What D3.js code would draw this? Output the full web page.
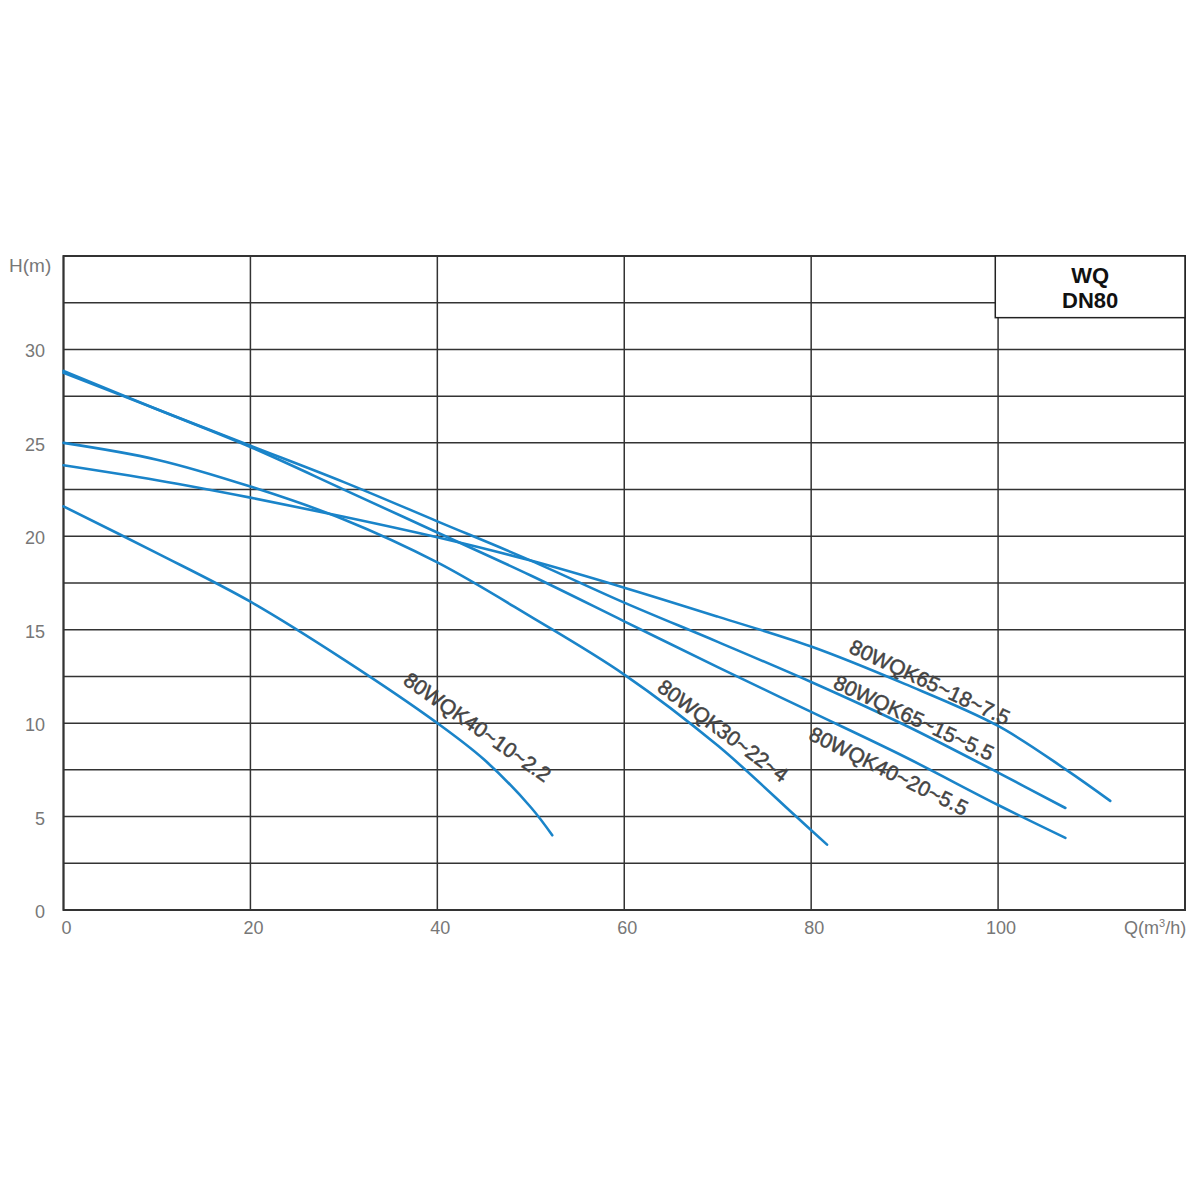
<!DOCTYPE html>
<html>
<head>
<meta charset="utf-8">
<script src="https://cdn.jsdelivr.net/npm/d3@7"></script>
<style>
  html, body { margin: 0; padding: 0; background: #fff; }
  svg { display: block; }
</style>
</head>
<body>
<svg id="chart" width="1200" height="1200"></svg>
<script>
// ---- Data ----
const seriesNames = ["80WQK40~10~2.2", "80WQK30~22~4", "80WQK65~18~7.5", "80WQK65~15~5.5", "80WQK40~20~5.5"];

const qA = [0, 10, 20, 30, 40, 45, 50, 52.3];
const hA = [21.6, 19.1, 16.5, 13.4, 10.0, 8.05, 5.5, 4.0];

const qB = [0, 10, 20, 30, 40, 50, 60, 70, 78.4, 81.7];
const hB = [25.0, 24.1, 22.66, 20.9, 18.6, 15.7, 12.6, 8.8, 5.0, 3.5];

const qC = [0, 10, 20, 30, 40, 50, 60, 70, 80, 90, 100, 107.3, 112];
const hC = [23.8, 23.0, 22.07, 21.05, 19.95, 18.7, 17.25, 15.7, 14.1, 12.1, 9.85, 7.5, 5.84];

const qD = [0, 10, 20, 30, 40, 50, 60, 70, 80, 90, 100, 107.2];
const hD = [28.75, 26.8, 24.85, 22.9, 20.8, 18.7, 16.45, 14.35, 12.2, 9.9, 7.35, 5.46];

const qE = [0, 10, 20, 30, 40, 50, 60, 70, 80, 90, 100, 107.2];
const hE = [28.85, 26.8, 24.78, 22.5, 20.2, 17.9, 15.45, 13.0, 10.6, 8.2, 5.62, 3.86];

// label anchor points (Q, H) and rotation angles
const labelQ = [44.3, 70.6, 92.7, 91.0, 88.3];
const labelH = [9.8, 9.6, 12.2, 10.3, 7.45];
const labelAngle = [35, 36.5, 25, 25, 26.3];

const xTicks = [0, 20, 40, 60, 80, 100];
const yTicks = [0, 5, 10, 15, 20, 25, 30];
const titleLines = ["WQ", "DN80"];

// ---- Layout ----
const svg = d3.select("#chart");
const pLeft = 63.5, pRight = 1185, pTop = 256, pBottom = 910;
const x = d3.scaleLinear().domain([0, 120]).range([pLeft, pRight]);
const y = d3.scaleLinear().domain([0, 35]).range([pBottom, pTop]);

const gridColor = "#333";
// horizontal grid
const hGrid = d3.range(0, 35.01, 2.5);
svg.append("g").selectAll("line").data(hGrid).join("line")
  .attr("x1", pLeft).attr("x2", pRight)
  .attr("y1", d => y(d)).attr("y2", d => y(d))
  .attr("stroke", gridColor).attr("stroke-width", 1.5);
// vertical grid
const vGrid = d3.range(0, 120.01, 20);
svg.append("g").selectAll("line").data(vGrid).join("line")
  .attr("y1", pTop).attr("y2", pBottom)
  .attr("x1", d => x(d)).attr("x2", d => x(d))
  .attr("stroke", gridColor).attr("stroke-width", 1.5);
// frame
svg.append("rect").attr("x", pLeft).attr("y", pTop)
  .attr("width", pRight - pLeft).attr("height", pBottom - pTop)
  .attr("fill", "none").attr("stroke", gridColor).attr("stroke-width", 2);

// tick labels
const font = "'Liberation Sans', Arial, sans-serif";
svg.append("g").selectAll("text").data(xTicks).join("text")
  .attr("x", d => x(d) + 3).attr("y", 934)
  .attr("text-anchor", "middle")
  .attr("font-family", font).attr("font-size", 18).attr("fill", "#777")
  .text(d => d);
svg.append("g").selectAll("text").data(yTicks).join("text")
  .attr("x", 45).attr("y", d => y(d) + 8)
  .attr("text-anchor", "end")
  .attr("font-family", font).attr("font-size", 18).attr("fill", "#777")
  .text(d => d);

svg.append("text").attr("x", 9).attr("y", 272)
  .attr("font-family", font).attr("font-size", 19).attr("fill", "#777")
  .text("H(m)");
const qt = svg.append("text").attr("x", 1124).attr("y", 934)
  .attr("font-family", font).attr("font-size", 18).attr("fill", "#777");
qt.append("tspan").text("Q(m");
qt.append("tspan").attr("font-size", 11).attr("dy", -7).text("3");
qt.append("tspan").attr("dy", 7).text("/h)");

// curves
const series = [[qA, hA], [qB, hB], [qC, hC], [qD, hD], [qE, hE]];
const line = d3.line().x(d => x(d[0])).y(d => y(d[1])).curve(d3.curveCatmullRom.alpha(0.5));
svg.append("g").selectAll("path").data(series).join("path")
  .attr("d", s => line(s[0].map((q, i) => [q, s[1][i]])))
  .attr("fill", "none").attr("stroke", "#1a84c9").attr("stroke-width", 2.6)
  .attr("stroke-linecap", "round");

// curve labels
svg.append("g").selectAll("text").data(seriesNames).join("text")
  .attr("transform", (d, i) => `translate(${x(labelQ[i])},${y(labelH[i])}) rotate(${labelAngle[i]})`)
  .attr("text-anchor", "middle").attr("dominant-baseline", "central")
  .attr("font-family", font).attr("font-size", 21).attr("fill", "#444")
  .attr("stroke", "#444").attr("stroke-width", 0.5)
  .text(d => d);

// legend box
const bx0 = x(99.7), by1 = y(31.7);
svg.append("rect").attr("x", bx0).attr("y", pTop)
  .attr("width", pRight - bx0).attr("height", by1 - pTop)
  .attr("fill", "#fff").attr("stroke", "#222").attr("stroke-width", 1.5);
svg.append("g").selectAll("text").data(titleLines).join("text")
  .attr("x", (bx0 + pRight) / 2)
  .attr("y", (d, i) => 283 + i * 25)
  .attr("text-anchor", "middle")
  .attr("font-family", font).attr("font-weight", "bold")
  .attr("font-size", 22).attr("fill", "#111")
  .text(d => d);
</script>
</body>
</html>
